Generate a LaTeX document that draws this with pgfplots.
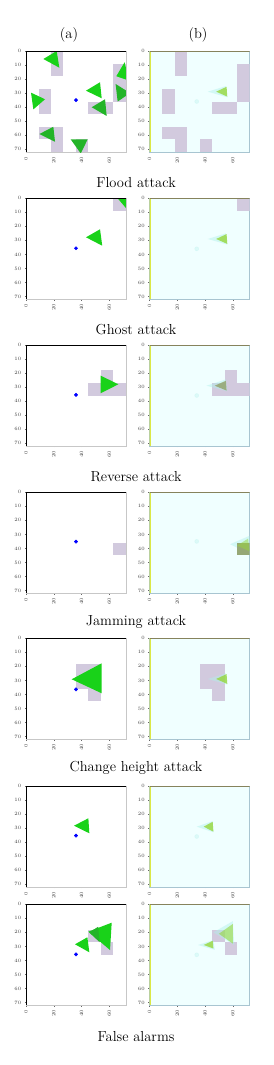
\documentclass[border=0pt]{standalone}
\usepackage{pgfplots}
\pgfplotsset{compat=1.18}
\definecolor{cellgray}{RGB}{210,202,222}
\definecolor{gr}{RGB}{25,210,25}
\definecolor{grd}{RGB}{35,180,40}
\definecolor{bbg}{RGB}{240,255,255}
\definecolor{olv}{RGB}{150,168,118}
\definecolor{blobg}{RGB}{150,215,60}
\definecolor{glow}{RGB}{175,240,235}
\definecolor{ylw}{RGB}{220,232,70}
\newcommand{\cell}[5][cellgray]{\addplot[fill=#1,draw=none] coordinates {(#2,#4) (#3,#4) (#3,#5) (#2,#5)} -- cycle;}
\newcommand{\tri}[7][gr]{\addplot[fill=#1,draw=none] coordinates {(#2,#3) (#4,#5) (#6,#7)} -- cycle;}
\newcommand{\glowtri}[6]{\addplot[fill=glow,draw=none,opacity=0.45] coordinates {(#1,#2) (#3,#4) (#5,#6)} -- cycle;}
\newcommand{\btri}[6]{\addplot[fill=blobg,draw=none,opacity=0.8] coordinates {(#1,#2) (#3,#4) (#5,#6)} -- cycle;}
\newcommand{\agent}[2]{\addplot[only marks, mark=*, mark size=1.7pt, color=blue] coordinates {(#1,#2)};}
\newcommand{\faint}[2]{\addplot[only marks, mark=*, mark size=2pt, color=glow, opacity=0.3] coordinates {(#1,#2)};}
\newcommand{\frameA}{\addplot[black, line width=2.2pt] coordinates {(0,72) (0,0) (72,0)};}
\newcommand{\frameB}{\addplot[ylw, line width=3pt] coordinates {(0,0) (0,72)};
\addplot[black!55!olive!70, line width=1.4pt] coordinates {(0,0) (72,0)};}
\pgfplotsset{
 panel/.style={width=100pt,height=101pt,scale only axis,
  xmin=0,xmax=72,ymin=0,ymax=72,y dir=reverse,
  xtick={0,20,40,60}, ytick={0,10,20,30,40,50,60,70},
  tick label style={font=\fontsize{3.3}{3.6}\selectfont, text=black!75},
  xticklabel style={rotate=90, anchor=east},
  major tick length=1.2pt, tick align=outside,
  tick style={black!60, line width=0.3pt},
  xtick pos=bottom, ytick pos=left, anchor=north west,
  axis line style={draw=black!22, line width=0.7pt}},
 pa/.style={panel},
 pb/.style={panel, axis background/.style={fill=bbg},
  axis line style={draw=cyan!35!gray!60, line width=0.8pt}},
}
\begin{document}
\begin{tikzpicture}[x=1pt,y=1pt]
\useasboundingbox (0pt,0pt) rectangle (273pt,-1065pt);
\node[font=\fontsize{14.5}{17}\selectfont] at (69pt,-35pt) {(a)};
\node[font=\fontsize{14.5}{17}\selectfont] at (198pt,-35pt) {(b)};
% ---------- Row 1: Flood attack
\begin{axis}[pa, at={(26pt,-51pt)}]
\cell{18}{27}{0}{18}\cell{63}{72}{9}{36}\cell{9}{18}{27}{45}\cell{45}{63}{36}{45}
\cell{9}{27}{54}{63}\cell{18}{27}{63}{72}\cell{36}{45}{63}{72}
\tri{12.5}{5.7}{22.1}{0}{24}{11.9}
\tri{65}{18}{71}{8}{74}{21}
\tri{43.2}{28.3}{53.3}{22.3}{54.5}{33.7}
\tri[grd]{64.5}{23.5}{75}{30}{66}{36}
\tri{13.7}{34.4}{3.6}{29.7}{5.3}{41.6}
\tri[grd]{47.3}{40.1}{56.9}{34.4}{58.1}{46.3}
\tri[grd]{9.6}{59.2}{19.7}{54}{20.9}{64.7}
\tri[grd]{32.2}{63}{44.4}{63}{39.4}{73}
\agent{36}{35}
\frameA
\end{axis}
\begin{axis}[pb, at={(149.5pt,-51pt)}]
\cell{18}{27}{0}{18}\cell{63}{72}{9}{36}\cell{9}{18}{27}{45}\cell{45}{63}{36}{45}
\cell{9}{27}{54}{63}\cell{18}{27}{63}{72}\cell{36}{45}{63}{72}
\glowtri{42}{29}{55}{25}{56}{33}
\btri{48}{29}{55.5}{25.5}{56}{32.5}
\faint{34}{36}
\frameB
\end{axis}
\node[font=\fontsize{14.5}{17}\selectfont, anchor=base] at (136pt,-187pt) {Flood attack};
% ---------- Row 2: Ghost attack
\begin{axis}[pa, at={(26pt,-198.3pt)}]
\cell{63}{72}{0}{9}
\tri{66}{0}{73}{0}{72}{7}
\tri{43.2}{27.8}{53.3}{22.1}{54.9}{33.8}
\agent{36}{35.6}
\frameA
\end{axis}
\begin{axis}[pb, at={(149.5pt,-198.3pt)}]
\cell{63}{72}{0}{9}
\glowtri{42}{29}{55}{25}{56}{33}
\btri{48}{29}{55.5}{25.5}{56}{32.5}
\faint{34}{36}
\frameB
\end{axis}
\node[font=\fontsize{14.5}{17}\selectfont, anchor=base] at (136pt,-334pt) {Ghost attack};
% ---------- Row 3: Reverse attack
\begin{axis}[pa, at={(26pt,-345pt)}]
\cell{54}{63}{18}{27}\cell{45}{72}{27}{36}
\tri{53.8}{21.9}{53.8}{34.4}{66.5}{28}
\agent{36}{35.6}
\frameA
\end{axis}
\begin{axis}[pb, at={(149.5pt,-345pt)}]
\cell{54}{63}{18}{27}\cell{45}{72}{27}{36}
\glowtri{41}{29}{55}{24.5}{56}{33}
\addplot[fill=olv,draw=none,opacity=0.9] coordinates {(47,29) (55,25.5) (55.5,32.5)} -- cycle;
\faint{34}{36}
\frameB
\end{axis}
\node[font=\fontsize{14.5}{17}\selectfont, anchor=base] at (136pt,-481pt) {Reverse attack};
% ---------- Row 4: Jamming attack
\begin{axis}[pa, at={(26pt,-492.3pt)}]
\cell{63}{72}{36}{45}
\agent{36}{35.2}
\frameA
\end{axis}
\begin{axis}[pb, at={(149.5pt,-492.3pt)}]
\glowtri{58}{37}{72}{31}{72}{44}
\cell[olv]{63}{72}{36}{45}
\addplot[fill=blobg,draw=none,opacity=0.5] coordinates {(63,38) (71,33) (72,42)} -- cycle;
\faint{34}{35}
\frameB
\end{axis}
\node[font=\fontsize{14.5}{17}\selectfont, anchor=base] at (136pt,-625pt) {Jamming attack};
% ---------- Row 5: Change height attack
\begin{axis}[pa, at={(26pt,-638.3pt)}]
\cell{36}{54}{18}{36}\cell{45}{54}{36}{45}
\tri{32.9}{29.2}{54.5}{17.8}{54.5}{39.2}
\agent{36}{36.4}
\frameA
\end{axis}
\begin{axis}[pb, at={(149.5pt,-638.3pt)}]
\cell{36}{54}{18}{36}\cell{45}{54}{36}{45}
\glowtri{42}{29}{55}{25}{56}{33}
\btri{48}{29}{55.5}{25.5}{56}{32.5}
\frameB
\end{axis}
\node[font=\fontsize{14.5}{17}\selectfont, anchor=base] at (136pt,-771.5pt) {Change height attack};
% ---------- Row 6
\begin{axis}[pa, at={(26pt,-786pt)}]
\tri{34.6}{28.3}{44.9}{23}{45.6}{33.7}
\agent{36}{35.4}
\frameA
\end{axis}
\begin{axis}[pb, at={(149.5pt,-786pt)}]
\glowtri{34}{29}{45.5}{25}{46}{33}
\btri{39}{29}{45.5}{25.5}{46}{32.5}
\faint{34}{36}
\frameB
\end{axis}
% ---------- Row 7: False alarms
\begin{axis}[pa, at={(26pt,-904.3pt)}]
\cell{45}{54}{18}{27}\cell{54}{63}{27}{36}
\tri{35.3}{28.5}{44.2}{23.5}{45.6}{34.2}
\tri{44.9}{19.5}{61.7}{13.1}{60.5}{32.6}
\tri[grd]{45.5}{20}{52}{16}{53}{27}
\agent{36}{35.7}
\frameA
\end{axis}
\begin{axis}[pb, at={(149.5pt,-904.3pt)}]
\cell{45}{54}{18}{27}\cell{54}{63}{27}{36}
\glowtri{46}{20}{60}{12}{61}{29}
\addplot[fill=blobg,draw=none,opacity=0.6] coordinates {(50,21) (60,14) (60,28)} -- cycle;
\glowtri{35}{29}{46}{25.5}{47}{32.5}
\btri{39}{29}{45.5}{26}{46}{31.5}
\faint{34}{36}
\frameB
\end{axis}
\node[font=\fontsize{14.5}{17}\selectfont, anchor=base] at (136pt,-1041pt) {False alarms};
\end{tikzpicture}
\end{document}
